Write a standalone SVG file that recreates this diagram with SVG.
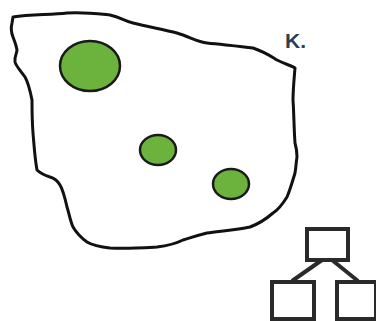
<svg xmlns="http://www.w3.org/2000/svg" width="376" height="321" viewBox="0 0 376 321">
<style>
.blob{fill:#fff;stroke:#111;stroke-width:3;stroke-linejoin:round}
.dot{fill:#6cb33e;stroke:#1a1a1a;stroke-width:2.5}
.box{fill:#fff;stroke:#2a2a2a;stroke-width:4}
.edge{stroke:#2a2a2a;stroke-width:4;fill:none}
.lbl{font-family:"Liberation Sans",Arial,sans-serif;font-weight:bold;font-size:21px;fill:#2e3f52}
</style>
<rect width="376" height="321" fill="#fff"/>
<g id="region">
<path class="blob" d="M13,17 C30,14 50,15 67,13 C85,12 100,14 110,15 C120,17 125,21 133,23 C150,27 165,30 177,33 C190,37 198,42 207,43 C225,45 240,46 253,48 C265,52 272,57 277,60 C285,64 292,66 295,68 C294,80 293,90 293,100 C294,115 294,130 295,143 C297,150 297,155 297,157 C296,163 296,168 295,173 C292,183 290,190 287,197 C282,205 278,210 273,213 C265,220 258,224 250,227 C230,231 218,231 207,233 C195,236 190,238 183,240 C175,244 165,246 157,247 C140,248 125,249 110,248 C100,247 92,245 87,242 C80,237 76,232 73,227 C70,220 69,213 67,207 C65,198 63,190 60,185 C57,180 54,178 50,177 C44,175 40,173 37,170 C35,160 34,145 33,133 C32,120 32,110 32,100 C30,90 28,82 25,77 C20,70 16,66 15,62 C14,57 17,53 17,50 C16,44 14,40 13,37 C11,32 11,27 12,23 Z"/>
</g>
<g id="dot1"><ellipse class="dot" cx="90" cy="66" rx="30" ry="25"/></g>
<g id="dot2"><ellipse class="dot" cx="158" cy="150" rx="18" ry="15"/></g>
<g id="dot3"><ellipse class="dot" cx="231" cy="184" rx="18" ry="15"/></g>
<g id="label"><text class="lbl" x="285" y="48">K.</text></g>
<g id="connectors">
<line class="edge" x1="322" y1="260" x2="292" y2="281"/>
<line class="edge" x1="332" y1="260" x2="358" y2="281"/>
</g>
<g id="top"><rect class="box" x="307" y="229" width="41" height="31"/></g>
<g id="left"><rect class="box" x="272" y="282" width="42" height="37"/></g>
<g id="right"><rect class="box" x="337" y="282" width="39" height="37"/></g>
</svg>
